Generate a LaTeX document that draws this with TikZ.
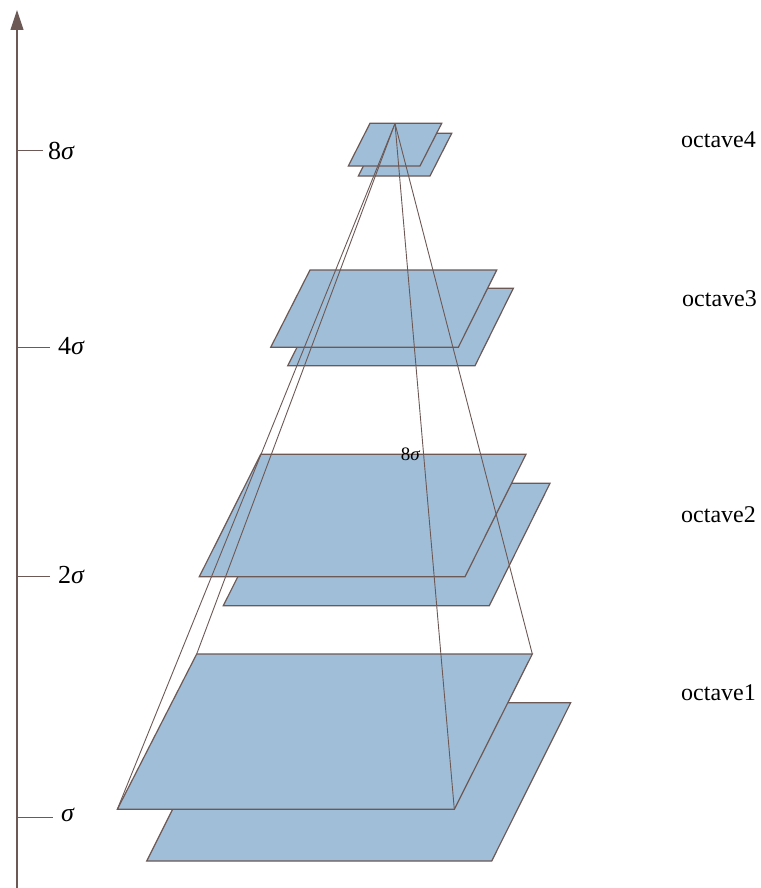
\documentclass[tikz,border=0pt]{standalone}
\usepackage{fontspec}
\setmainfont{Liberation Serif}
\usetikzlibrary{arrows.meta}
\definecolor{planefill}{RGB}{160,190,216}
\definecolor{edgecol}{RGB}{108,88,84}
\tikzset{
  plane/.style={fill=planefill,draw=edgecol,line width=1.2pt,line join=miter},
  ray/.style={draw=edgecol,line width=0.9pt},
  tick/.style={draw=edgecol,line width=1pt},
  axis/.style={draw=edgecol,line width=1.2pt,-{Triangle[length=20pt,width=13pt,fill=edgecol]}},
  sig/.style={font=\fontsize{26}{30}\selectfont,inner sep=0pt,anchor=west},
  oct/.style={font=\fontsize{24}{28}\selectfont,inner sep=0pt,anchor=west},
}
\begin{document}
\begin{tikzpicture}[x=1pt,y=-1pt]
\useasboundingbox (0,0) rectangle (760,888);
% axis
\coordinate (axbot) at (17,888);
\coordinate (axtop) at (17,10);
\draw[axis] (axbot) -- (axtop);
% ticks
\coordinate (t8a) at (17,150); \coordinate (t8b) at (43,150);
\coordinate (t4a) at (17,347.5); \coordinate (t4b) at (50,347.5);
\coordinate (t2a) at (17,576); \coordinate (t2b) at (50,576);
\coordinate (t1a) at (17,817); \coordinate (t1b) at (53,817);
\draw[tick] (t8a) -- (t8b);
\draw[tick] (t4a) -- (t4b);
\draw[tick] (t2a) -- (t2b);
\draw[tick] (t1a) -- (t1b);
\node[sig] (l8) at (48,151) {8\textit{σ}};
\node[sig] (l4) at (58,346) {4\textit{σ}};
\node[sig] (l2) at (58,575) {2\textit{σ}};
\node[sig] (l1) at (61,815) {\textit{σ}};
% octave 1
\draw[plane] (226,702.7) -- (570.7,702.7) -- (491.7,861) -- (146.7,861) -- cycle;
\draw[plane] (196.7,654) -- (532.3,654) -- (454.3,809.3) -- (117.3,809.3) -- cycle;
% octave 2
\draw[plane] (284.7,483.3) -- (550,483.3) -- (489.3,605.7) -- (223.3,605.7) -- cycle;
\draw[plane] (260.7,454.3) -- (526,454.3) -- (465,576.7) -- (199.3,576.7) -- cycle;
% octave 3
\draw[plane] (327,288.3) -- (513.3,288.3) -- (475,365.7) -- (287.7,365.7) -- cycle;
\draw[plane] (310,270) -- (496.7,270) -- (458.3,347.3) -- (270.7,347.3) -- cycle;
% octave 4
\draw[plane] (380,133.3) -- (451.7,133.3) -- (430,176) -- (358.3,176) -- cycle;
\draw[plane] (370,123.3) -- (441.7,123.3) -- (420,166) -- (348.3,166) -- cycle;
% pyramid rays
\coordinate (apex) at (395,123.5);
\coordinate (c1) at (117.3,809.3);
\coordinate (c2) at (196.7,654);
\coordinate (c3) at (454.3,809.3);
\coordinate (c4) at (532.3,654);
\draw[ray] (apex) -- (c1);
\draw[ray] (apex) -- (c2);
\draw[ray] (apex) -- (c3);
\draw[ray] (apex) -- (c4);
\node[font=\fontsize{19}{21}\selectfont,inner sep=0pt] (mid8) at (410.7,454) {8\textit{σ}};
% octave labels
\node[oct] (o4) at (681,140) {octave4};
\node[oct] (o3) at (682,299) {octave3};
\node[oct] (o2) at (681,515) {octave2};
\node[oct] (o1) at (681,693) {octave1};
\end{tikzpicture}
\end{document}
